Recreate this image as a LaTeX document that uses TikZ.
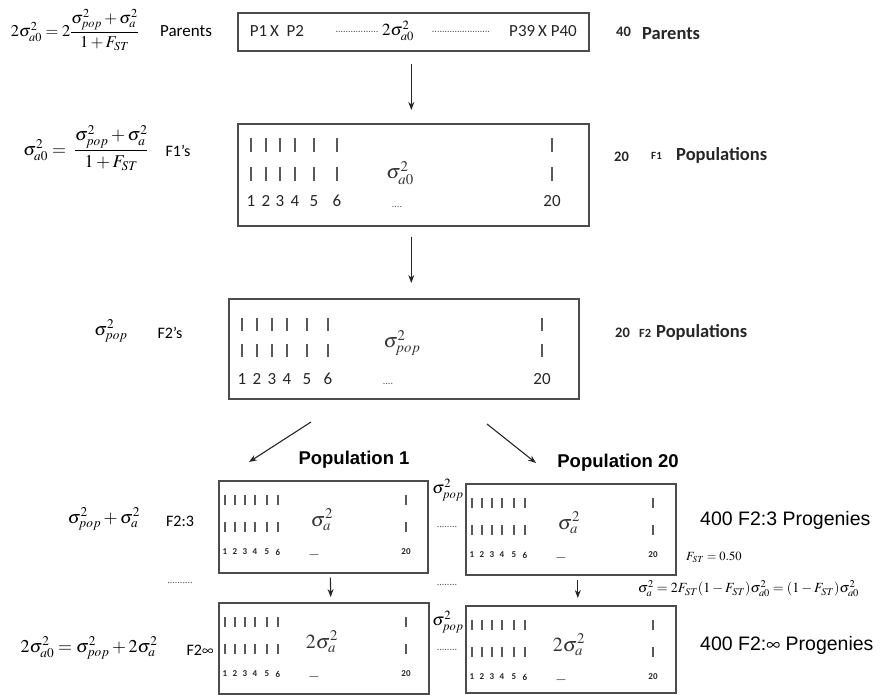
\documentclass[tikz,border=0pt]{standalone}
\usepackage{amsmath}
\usepackage{mathptmx}
\usepackage[no-math]{fontspec}
\setmainfont{Carlito}
\newfontfamily\lsans{Liberation Sans}
\usetikzlibrary{arrows.meta}
\tikzset{
 box/.style={draw=black!70, line width=1.6pt, anchor=north west, inner sep=0pt},
 bar/.style={draw=black!65, line width=1.4pt},
 arr/.style={-{Stealth[length=8pt,width=6pt]}, line width=1.1pt, draw=black!85},
 cal/.style={inner sep=0pt, font=\fontsize{17}{17}\selectfont},
 calsm/.style={inner sep=0pt, font=\fontsize{16}{16}\selectfont},
 boxtxt/.style={inner sep=0pt, font=\fontsize{17}{17}\selectfont, text=black!85},
 numtxt/.style={inner sep=0pt, font=\fontsize{17}{17}\selectfont, text=black!85},
 tinynum/.style={inner sep=0pt, font=\fontsize{9}{9}\selectfont\bfseries, text=black!85},
 mth/.style={inner sep=0pt, font=\fontsize{18}{18}\selectfont},
 mthmid/.style={inner sep=0pt, font=\fontsize{17}{17}\selectfont},
 mthbig/.style={inner sep=0pt, font=\fontsize{20}{20}\selectfont, text=black!80},
 rbig/.style={inner sep=0pt, anchor=west, font=\bfseries\fontsize{18.5}{18.5}\selectfont, text=black!85},
 rnum/.style={inner sep=0pt, anchor=west, font=\bfseries\fontsize{14.5}{14.5}\selectfont, text=black!85},
 rtiny/.style={inner sep=0pt, anchor=west, font=\bfseries\fontsize{11}{11}\selectfont, text=black!85},
 prog/.style={inner sep=0pt, anchor=west, font=\lsans\fontsize{19.5}{19.5}\selectfont},
 popl/.style={inner sep=0pt, font=\lsans\bfseries\fontsize{18.5}{18.5}\selectfont},
 dots/.style={inner sep=0pt, font=\fontsize{10}{10}\selectfont, text=black!70},
}
\begin{document}
\begin{tikzpicture}[x=1pt,y=-1pt]
\useasboundingbox (0,0) rectangle (893,694);

% ---------- boxes ----------
\node[box, minimum width=351, minimum height=38] (par) at (237,12) {};
\node[box, minimum width=351, minimum height=102] (fone) at (237,123) {};
\node[box, minimum width=350, minimum height=100] (ftwo) at (228,298) {};
\node[box, minimum width=209, minimum height=92] (pa) at (218,480) {};
\node[box, minimum width=210, minimum height=91] (pb) at (465,483) {};
\node[box, minimum width=210, minimum height=91] (pc) at (218,602) {};
\node[box, minimum width=210, minimum height=87] (pd) at (465,605) {};

% ---------- parents box text ----------
\node[boxtxt] (p12) at (277,31) {P1\,X\ \ P2};
\node[dots] (d1) at (357,32) {.................};
\node[mthmid] (s0) at (398,31) {$2\sigma^2_{a0}$};
\node[dots] (d2) at (461,32) {.......................};
\node[boxtxt] (p3940) at (543,31) {P39\,X\ P40};

% ---------- F1 box ----------
\begin{scope}[shift={(fone.north west)}]
 \foreach \x/\n in {14/1,29/2,43/3,58/4,77/5,100/6}{
  \draw[bar] (\x,15) -- (\x,29);
  \draw[bar] (\x,44) -- (\x,58);
  \node[numtxt] (fa\n) at (\x,78) {\n};
 }
 \draw[bar] (315,15) -- (315,29);
 \draw[bar] (315,44) -- (315,58);
 \node[numtxt] (fa20) at (315,78) {20};
 \node[mthbig] (sfa) at (163,50) {$\sigma^2_{a0}$};
 \node[dots] (fad) at (160,84) {....};
\end{scope}

% ---------- F2 box ----------
\begin{scope}[shift={(ftwo.north west)}]
 \foreach \x/\n in {14/1,29/2,44/3,59/4,79/5,100/6}{
  \draw[bar] (\x,20) -- (\x,33);
  \draw[bar] (\x,46) -- (\x,59);
  \node[numtxt] (fb\n) at (\x,81) {\n};
 }
 \draw[bar] (314,20) -- (314,33);
 \draw[bar] (314,46) -- (314,59);
 \node[numtxt] (fb20) at (314,81) {20};
 \node[mthbig] (sfb) at (174,45) {$\sigma^2_{pop}$};
 \node[dots] (fbd) at (160,86) {....};
\end{scope}

% ---------- small boxes ----------
\foreach \b/\m in {pa/{$\sigma^2_a$},pb/{$\sigma^2_a$},pc/{$2\sigma^2_a$},pd/{$2\sigma^2_a$}}{
 \begin{scope}[shift={(\b.north west)}]
  \foreach \x/\n in {7/1,17/2,27/3,37/4,49/5,60/6}{
   \draw[bar, line width=1.1pt] (\x,15) -- (\x,25);
   \draw[bar, line width=1.1pt] (\x,42) -- (\x,52);
   \node[tinynum] (\b n\n) at (\x,72) {\n};
  }
  \draw[bar, line width=1.1pt] (188,15) -- (188,25);
  \draw[bar, line width=1.1pt] (188,42) -- (188,52);
  \node[tinynum] (\b n20) at (188,72) {20};
  \node[mthbig] (\b s) at (104,40) {\m};
  \node[inner sep=0pt, font=\fontsize{12}{12}\selectfont, text=black!70] (\b d) at (96,77) {---};
 \end{scope}
}

% ---------- left column ----------
\node[mth, font=\fontsize{16.5}{16.5}\selectfont] (eq1) at (75,30) {$2\sigma^2_{a0}=2\dfrac{\sigma^2_{pop}+\sigma^2_a}{1+F_{ST}}$};
\node[cal] (lpar) at (186,31) {Parents};
\node[mth] (eq2) at (86,148) {$\sigma^2_{a0}=\;\dfrac{\sigma^2_{pop}+\sigma^2_a}{1+F_{ST}}$};
\node[calsm] (lf1) at (178,151) {F1’s};
\node[mth] (eq3) at (111,331) {$\sigma^2_{pop}$};
\node[calsm] (lf2) at (170,333) {F2’s};
\node[mth] (eq4) at (104,519) {$\sigma^2_{pop}+\sigma^2_a$};
\node[calsm] (lf23) at (180,521) {F2:3};
\node[mth] (eq5) at (89,648) {$2\sigma^2_{a0}=\sigma^2_{pop}+2\sigma^2_a$};
\node[calsm] (lf2i) at (200,650) {F2$\infty$};

% ---------- middle column between small boxes ----------
\node[mthmid] (mp1) at (448,490) {$\sigma^2_{pop}$};
\node[dots] (md1) at (447,527) {........};
\node[dots] (md2) at (180,583) {..........};
\node[dots] (md3) at (447,585) {........};
\node[mthmid] (mp2) at (448,622) {$\sigma^2_{pop}$};
\node[dots] (md4) at (447,650) {........};

% ---------- population labels ----------
\node[popl] (pop1) at (354,460) {Population 1};
\node[popl] (pop20) at (618,463) {Population 20};

% ---------- right column ----------
\node[rnum] (r1n) at (616,32) {40};
\node[rbig] (r1) at (642,34) {Parents};
\node[rnum] (r2n) at (614,157) {20};
\node[rtiny] (r2f) at (651,156) {F1};
\node[rbig] (r2) at (676,155) {Populations};
\node[rnum] (r3n) at (615,333) {20};
\node[rnum, font=\bfseries\fontsize{12.5}{12.5}\selectfont] (r3f) at (639,333) {F2};
\node[rbig] (r3) at (656,332) {Populations};
\node[prog] (r4) at (700,520) {400 F2:3 Progenies};
\node[inner sep=0pt, anchor=west, font=\fontsize{12.5}{12.5}\selectfont] (r5) at (686,557) {$F_{ST}=0.50$};
\node[inner sep=0pt, anchor=west, font=\fontsize{14}{14}\selectfont] (r6) at (638,589) {$\sigma^2_a=2F_{ST}(1-F_{ST})\sigma^2_{a0}=(1-F_{ST})\sigma^2_{a0}$};
\node[prog] (r7) at (700,645) {400 F2:$\infty$ Progenies};

% ---------- arrows ----------
\draw[arr, shorten <=12pt, shorten >=13pt] ([xshift=-2pt]par.south) -- ([xshift=-2pt]fone.north);
\draw[arr, shorten <=10pt, shorten >=15pt] ([xshift=-2pt]fone.south) -- ([xshift=-2pt]fone.south |- ftwo.north);
\coordinate (dl0) at (311,422);
\coordinate (dl1) at (249,462);
\coordinate (dr0) at (487,424);
\coordinate (dr1) at (536,463);
\draw[arr] (dl0) -- (dl1);
\draw[arr] (dr0) -- (dr1);
\draw[arr, shorten <=4pt, shorten >=5pt] ([xshift=7pt]pa.south) -- ([xshift=7pt]pc.north);
\draw[arr, shorten <=4pt, shorten >=7pt] ([xshift=7pt]pb.south) -- ([xshift=7pt]pd.north);
\end{tikzpicture}
\end{document}
